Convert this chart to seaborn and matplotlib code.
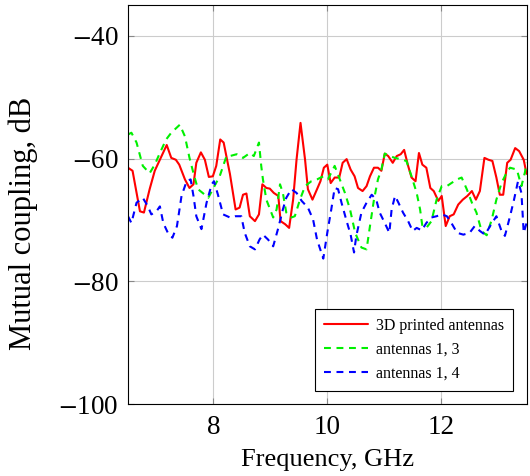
import pandas as pd
import numpy as np
import matplotlib
matplotlib.use("Agg")
import matplotlib.pyplot as plt
import seaborn as sns

sns.set_style("whitegrid")
sns.set_style(rc={
    'axes.edgecolor': 'black',
    'axes.linewidth': 1.0,
    'grid.color': '#c8c8c8',
    'grid.linewidth': 0.8,
    'xtick.bottom': True,
    'xtick.top': True,
    'ytick.left': True,
    'ytick.right': True,
    'xtick.direction': 'in',
    'ytick.direction': 'in',
    'xtick.color': 'black',
    'ytick.color': 'black',
    'text.color': 'black',
    'axes.labelcolor': 'black',
})
plt.rcParams['font.family'] = ['Liberation Serif', 'DejaVu Serif']
plt.rcParams['mathtext.fontset'] = 'stix'

# 3D printed antennas (red)
red_f = [6.50, 6.58, 6.71, 6.78, 6.88, 6.97, 7.06, 7.18, 7.26, 7.34, 7.40, 7.50, 7.58, 7.65,
         7.70, 7.78, 7.85, 7.92, 7.99, 8.05, 8.12, 8.18, 8.29, 8.39, 8.46, 8.52, 8.58, 8.64,
         8.73, 8.80, 8.86, 8.93, 8.99, 9.06, 9.14, 9.18, 9.26, 9.33, 9.40, 9.46, 9.53, 9.61,
         9.66, 9.74, 9.82, 9.88, 9.94, 10.00, 10.06, 10.13, 10.21, 10.27, 10.34, 10.41, 10.48,
         10.54, 10.62, 10.69, 10.75, 10.82, 10.89, 10.95, 11.01, 11.07, 11.15, 11.22, 11.29,
         11.35, 11.42, 11.48, 11.55, 11.61, 11.67, 11.74, 11.81, 11.87, 11.95, 12.01, 12.08,
         12.15, 12.22, 12.30, 12.38, 12.46, 12.54, 12.61, 12.68, 12.76, 12.83, 12.90, 12.97,
         13.03, 13.09, 13.16, 13.22, 13.30, 13.37, 13.45, 13.50]
red_db = [-61.5, -62.0, -68.6, -68.8, -65.0, -62.0, -60.2, -57.8, -59.9, -60.2, -61.0, -63.4,
          -64.8, -64.2, -60.7, -59.0, -60.2, -63.0, -62.9, -61.2, -56.9, -57.4, -62.5, -68.3,
          -68.0, -65.9, -65.7, -69.4, -70.2, -69.1, -64.2, -64.8, -64.9, -65.6, -66.1, -70.2,
          -70.7, -71.3, -66.7, -60.2, -54.2, -60.2, -65.0, -66.7, -65.0, -63.7, -61.5, -61.0,
          -64.0, -63.1, -63.1, -60.7, -60.1, -61.8, -62.9, -64.8, -65.3, -64.5, -62.9, -61.5,
          -61.5, -62.0, -59.2, -59.6, -60.7, -59.6, -59.3, -58.6, -61.2, -63.1, -63.7, -59.1,
          -61.0, -61.5, -64.8, -65.3, -66.9, -66.1, -71.0, -69.4, -69.1, -67.5, -66.7, -66.1,
          -65.3, -66.7, -65.3, -59.9, -60.2, -60.4, -63.1, -65.9, -65.9, -60.7, -60.2, -58.3,
          -58.8, -60.2, -62.5]

# antennas 1, 3 (green)
green_f = [6.50, 6.56, 6.65, 6.76, 6.88, 6.97, 7.06, 7.17, 7.26, 7.41, 7.50, 7.58, 7.67, 7.73,
           7.85, 7.91, 7.99, 8.11, 8.23, 8.29, 8.41, 8.52, 8.64, 8.71, 8.80, 8.84, 8.87, 8.93,
           9.05, 9.11, 9.17, 9.22, 9.28, 9.37, 9.43, 9.52, 9.61, 9.72, 9.82, 9.93, 10.01, 10.13,
           10.22, 10.31, 10.40, 10.49, 10.60, 10.69, 10.75, 10.82, 10.89, 10.95, 11.01, 11.10,
           11.19, 11.28, 11.39, 11.48, 11.57, 11.63, 11.67, 11.74, 11.83, 11.92, 12.01, 12.10,
           12.18, 12.28, 12.36, 12.45, 12.54, 12.62, 12.71, 12.80, 12.89, 12.97, 13.06, 13.15,
           13.21, 13.33, 13.41, 13.47, 13.50]
green_db = [-56.1, -55.8, -57.4, -61.2, -62.4, -61.0, -59.1, -56.9, -55.8, -54.5, -56.4, -59.9,
            -63.1, -65.0, -65.9, -66.4, -65.0, -62.9, -59.6, -59.6, -59.3, -59.9, -59.1, -59.6,
            -57.4, -61.2, -63.4, -66.7, -69.6, -68.3, -64.2, -65.6, -68.8, -69.6, -69.4, -66.7,
            -64.5, -63.7, -63.4, -62.9, -63.4, -61.2, -63.4, -65.6, -68.3, -72.1, -74.5, -74.8,
            -71.0, -66.7, -63.4, -61.8, -59.2, -59.6, -59.9, -60.1, -60.4, -62.9, -65.6, -68.3,
            -71.0, -71.3, -70.2, -66.7, -64.5, -64.5, -64.0, -63.4, -63.1, -65.0, -67.2, -68.8,
            -71.8, -72.5, -69.9, -66.7, -64.0, -62.3, -61.5, -61.8, -64.5, -62.3, -60.7]

# antennas 1, 4 (blue)
blue_f = [6.50, 6.56, 6.65, 6.76, 6.85, 6.91, 7.00, 7.06, 7.12, 7.20, 7.28, 7.36, 7.44, 7.53,
          7.60, 7.65, 7.70, 7.79, 7.88, 7.97, 8.01, 8.08, 8.17, 8.29, 8.38, 8.49, 8.55, 8.64,
          8.73, 8.81, 8.87, 8.96, 9.05, 9.14, 9.22, 9.28, 9.37, 9.46, 9.55, 9.66, 9.75, 9.82,
          9.93, 10.00, 10.07, 10.13, 10.19, 10.25, 10.34, 10.41, 10.47, 10.51, 10.60, 10.69,
          10.78, 10.86, 10.92, 11.01, 11.09, 11.13, 11.19, 11.25, 11.33, 11.42, 11.50, 11.57,
          11.66, 11.74, 11.83, 11.92, 12.01, 12.10, 12.18, 12.28, 12.39, 12.50, 12.59, 12.68,
          12.77, 12.86, 12.97, 13.06, 13.12, 13.21, 13.28, 13.35, 13.41, 13.45, 13.50]
blue_db = [-69.4, -70.5, -67.2, -66.4, -67.8, -69.1, -68.6, -67.8, -70.5, -72.1, -72.9, -71.0,
           -66.1, -63.7, -63.4, -66.1, -69.4, -71.5, -67.2, -64.2, -63.7, -65.9, -69.1, -69.6,
           -69.4, -69.4, -72.1, -74.3, -74.8, -73.2, -72.4, -73.2, -74.3, -71.3, -68.3, -66.4,
           -65.0, -65.6, -66.9, -68.0, -69.9, -73.2, -76.3, -72.1, -68.3, -64.8, -65.0, -67.2,
           -70.2, -72.4, -75.3, -72.6, -68.8, -67.2, -65.9, -66.7, -68.8, -70.5, -72.1, -68.3,
           -66.1, -67.2, -68.8, -70.2, -71.8, -71.3, -71.7, -70.5, -69.6, -69.4, -69.1, -69.4,
           -70.5, -72.1, -72.4, -72.1, -71.0, -71.8, -72.4, -71.0, -69.4, -71.8, -72.6, -69.4,
           -66.7, -63.7, -65.6, -72.1, -70.5]

labels = ['3D printed antennas', 'antennas 1, 3', 'antennas 1, 4']
colors = ['#ff0000', '#00f000', '#0000ff']

df = pd.concat([
    pd.DataFrame({'f': red_f, 'db': red_db, 'series': labels[0]}),
    pd.DataFrame({'f': green_f, 'db': green_db, 'series': labels[1]}),
    pd.DataFrame({'f': blue_f, 'db': blue_db, 'series': labels[2]}),
])

fig = plt.figure(figsize=(5.3, 4.76), dpi=100)
ax = fig.add_axes([0.2415, 0.151, 0.752, 0.8385])

sns.lineplot(data=df, x='f', y='db', hue='series', style='series',
             palette=dict(zip(labels, colors)),
             dashes={labels[0]: '', labels[1]: (3.3, 2.7), labels[2]: (3.3, 2.7)},
             sort=False, estimator=None, linewidth=1.5, ax=ax)

ax.set_xlim(6.5, 13.5)
ax.set_ylim(-100, -35)
ax.set_xticks([8, 10, 12])
ax.set_yticks([-100, -80, -60, -40])
ax.set_yticklabels(['$-$100', '$-$80', '$-$60', '$-$40'])
ax.tick_params(axis='both', labelsize=19.5, length=4, width=0.8, color='#888888')
ax.tick_params(axis='y', pad=7)
ax.tick_params(axis='x', pad=8)
ax.set_xlabel('Frequency, GHz', fontsize=19, labelpad=6)
ax.set_ylabel('Mutual coupling, dB', fontsize=22)
ax.yaxis.set_label_coords(-0.227, 0.452)
ax.grid(True, color='#cccccc', linewidth=0.8)

leg = ax.legend(loc='lower right', fontsize=11.5, frameon=True, fancybox=False,
                edgecolor='black', framealpha=1, handlelength=2.75, handletextpad=0.5,
                borderaxespad=0.85, borderpad=0.55, labelspacing=0.5)
leg.get_frame().set_linewidth(0.8)

fig.savefig('out.png', dpi=100)
